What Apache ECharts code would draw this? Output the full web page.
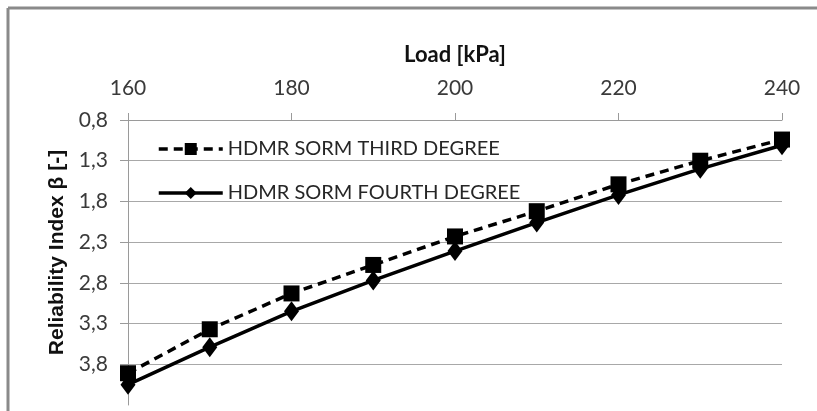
<!DOCTYPE html>
<html>
<head>
<meta charset="utf-8">
<script src="https://cdn.jsdelivr.net/npm/echarts@6/dist/echarts.min.js"></script>
<style>html,body{margin:0;padding:0;background:#fff}#c{width:817px;height:411px}</style>
</head>
<body>
<div id="c"></div>
<script>
var loads = [160, 170, 180, 190, 200, 210, 220, 230, 240];
var thirdDegree = [3.91, 3.37, 2.93, 2.58, 2.23, 1.92, 1.59, 1.30, 1.04];
var fourthDegree = [4.05, 3.59, 3.15, 2.77, 2.41, 2.06, 1.72, 1.40, 1.11];
var seriesNames = ['HDMR SORM THIRD DEGREE', 'HDMR SORM FOURTH DEGREE'];
var xTitle = 'Load [kPa]';
var yTitle = 'Reliability Index \u03B2 [-]';

function pairs(xs, ys) { return xs.map(function (x, i) { return [x, ys[i]]; }); }

var FONT = 'Lato';
var chart = echarts.init(document.getElementById('c'), null, { renderer: 'canvas' });
chart.setOption({
  backgroundColor: '#fff',
  animation: false,
  graphic: [
    { type: 'line', shape: { x1: 8, y1: 8, x2: 817, y2: 8 }, style: { stroke: '#8a8a8a', lineWidth: 3 } },
    { type: 'line', shape: { x1: 8, y1: 8, x2: 8, y2: 411 }, style: { stroke: '#8a8a8a', lineWidth: 3 } }
  ],
  grid: { left: 128, right: 35, top: 120, bottom: 6 },
  legend: {
    orient: 'vertical',
    left: 152, top: 134,
    itemWidth: 64, itemHeight: 15, itemGap: 24,
    lineStyle: { width: 3.5 },
    textStyle: { fontFamily: FONT, fontSize: 20, color: '#262626' },
    data: seriesNames
  },
  xAxis: {
    type: 'value', position: 'top', min: 160, max: 240, interval: 20,
    name: xTitle, nameLocation: 'middle', nameGap: 54,
    nameTextStyle: { fontFamily: FONT, fontWeight: 'bold', fontSize: 22, color: '#111' },
    axisLine: { show: true, lineStyle: { color: '#9a9a9a', width: 1 } },
    axisTick: { show: true, inside: false, length: 7, lineStyle: { color: '#9a9a9a' } },
    axisLabel: { fontFamily: FONT, fontSize: 21, color: '#3a3a3a', margin: 21 },
    splitLine: { show: false }
  },
  yAxis: {
    type: 'value', inverse: true, min: 0.8, max: 4.3, interval: 0.5,
    name: yTitle, nameLocation: 'middle', nameGap: 60, nameRotate: 90,
    nameTextStyle: { fontFamily: 'Liberation Sans', fontWeight: 'bold', fontSize: 21, color: '#111', padding: [0, 0, 0, 20] },
    axisLine: { show: true, lineStyle: { color: '#9a9a9a', width: 1 } },
    axisTick: { show: true, inside: false, length: 8, lineStyle: { color: '#9a9a9a' } },
    axisLabel: {
      fontFamily: FONT, fontSize: 21, color: '#3a3a3a', margin: 20, showMaxLabel: false,
      formatter: function (v) { return v.toFixed(1).replace('.', ','); }
    },
    splitLine: { show: true, lineStyle: { color: ['#a8a8a8', '#a8a8a8', '#a8a8a8', '#a8a8a8', '#a8a8a8', '#a8a8a8', '#a8a8a8', 'rgba(0,0,0,0)'], width: 1 } }
  },
  series: [
    {
      name: seriesNames[0], type: 'line', data: pairs(loads, thirdDegree),
      symbol: 'rect', symbolSize: 16,
      lineStyle: { color: '#000', width: 3.5, type: [9, 6] },
      itemStyle: { color: '#000' }
    },
    {
      name: seriesNames[1], type: 'line', data: pairs(loads, fourthDegree),
      symbol: 'diamond', symbolSize: [15, 20],
      lineStyle: { color: '#000', width: 3.5, type: 'solid' },
      itemStyle: { color: '#000' }
    }
  ]
});
</script>
</body>
</html>
